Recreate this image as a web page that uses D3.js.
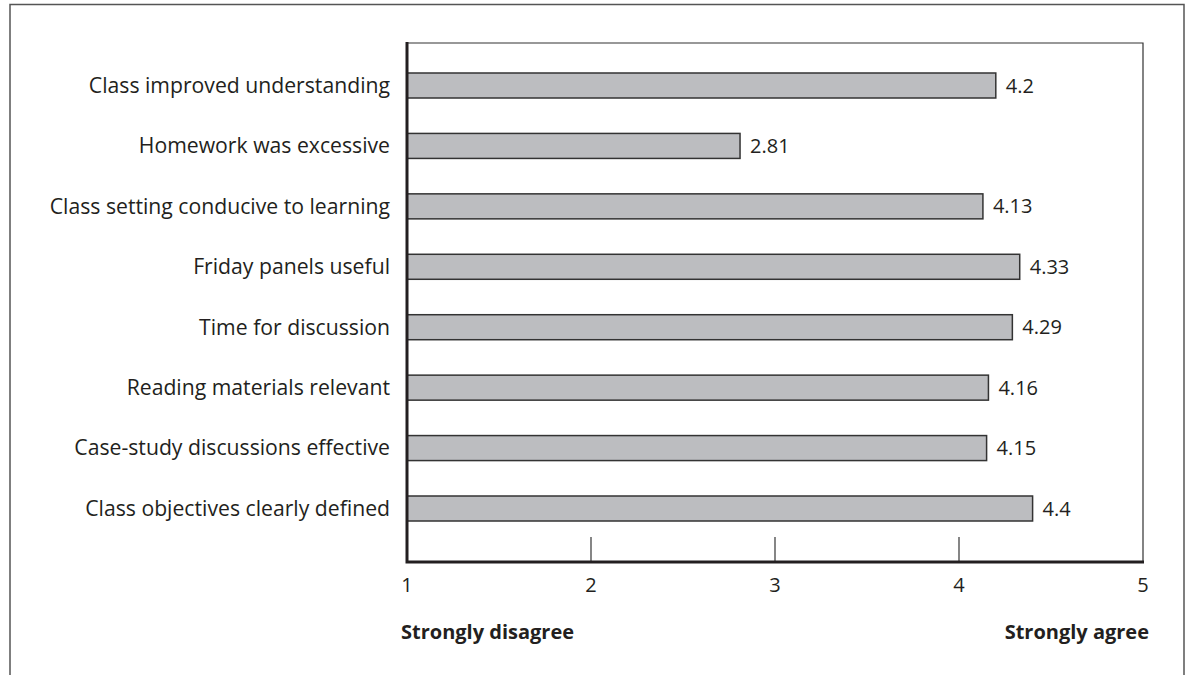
<!DOCTYPE html>
<html><head><meta charset="utf-8">
<script src="https://cdn.jsdelivr.net/npm/d3@7"></script>
<style>body{margin:0;background:#fff}svg{display:block}text{font-family:"Open Sans",sans-serif;fill:#231f20}</style>
</head><body>
<svg id="c" width="1189" height="675"></svg>
<script>
const categories = ["Class improved understanding","Homework was excessive","Class setting conducive to learning","Friday panels useful","Time for discussion","Reading materials relevant","Case-study discussions effective","Class objectives clearly defined"];
const values = [4.2, 2.81, 4.13, 4.33, 4.29, 4.16, 4.15, 4.4];
const valueLabels = ["4.2","2.81","4.13","4.33","4.29","4.16","4.15","4.4"];
const tickValues = [1,2,3,4,5];
const axisEndLabels = ["Strongly disagree","Strongly agree"];

const svg = d3.select("#c");
const L=407, R=1143, T=43, B=562;
const x = d3.scaleLinear().domain([1,5]).range([L,R]);
const y = d3.scalePoint().domain(categories).range([85.5,508.5]);
const bh = 25;

svg.append("path").attr("d",`M10,680 V4.5 H1184 V680`).attr("fill","none").attr("stroke","#555").attr("stroke-width",1.5);
svg.append("path").attr("d",`M${L},${T} H${R} V${B}`).attr("fill","none").attr("stroke","#333").attr("stroke-width",1.2);

svg.append("g").selectAll("line").data(tickValues.slice(1,4)).join("line")
  .attr("x1",d=>x(d)).attr("x2",d=>x(d)).attr("y1",B-25).attr("y2",B)
  .attr("stroke","#444").attr("stroke-width",1.3);

svg.append("g").selectAll("rect").data(values).join("rect")
  .attr("x",x(1)).attr("y",(d,i)=>y(categories[i])-bh/2)
  .attr("width",d=>x(d)-x(1)).attr("height",bh)
  .attr("fill","#bcbdc0").attr("stroke","#333").attr("stroke-width",1.5);

svg.append("g").selectAll("text").data(values).join("text")
  .attr("x",d=>x(d)+10).attr("y",(d,i)=>y(categories[i])).attr("dy","0.35em")
  .attr("font-size",20).text((d,i)=>valueLabels[i]);

svg.append("g").selectAll("text").data(categories).join("text")
  .attr("x",L-17).attr("y",d=>y(d)).attr("dy","0.35em").attr("text-anchor","end")
  .attr("font-size",21.2).text(d=>d);

svg.append("path").attr("d",`M${L},${T-1} V${B} H${R+1}`).attr("fill","none").attr("stroke","#231f20").attr("stroke-width",3);

svg.append("g").selectAll("text").data(tickValues).join("text")
  .attr("x",d=>x(d)).attr("y",585).attr("dy","0.35em").attr("text-anchor","middle")
  .attr("font-size",20).text(d=>d);

svg.append("text").attr("x",401).attr("y",632).attr("dy","0.35em").attr("font-size",20).attr("font-weight","bold").text(axisEndLabels[0]);
svg.append("text").attr("x",1149).attr("y",632).attr("dy","0.35em").attr("text-anchor","end").attr("font-size",20).attr("font-weight","bold").text(axisEndLabels[1]);
</script>
</body></html>
